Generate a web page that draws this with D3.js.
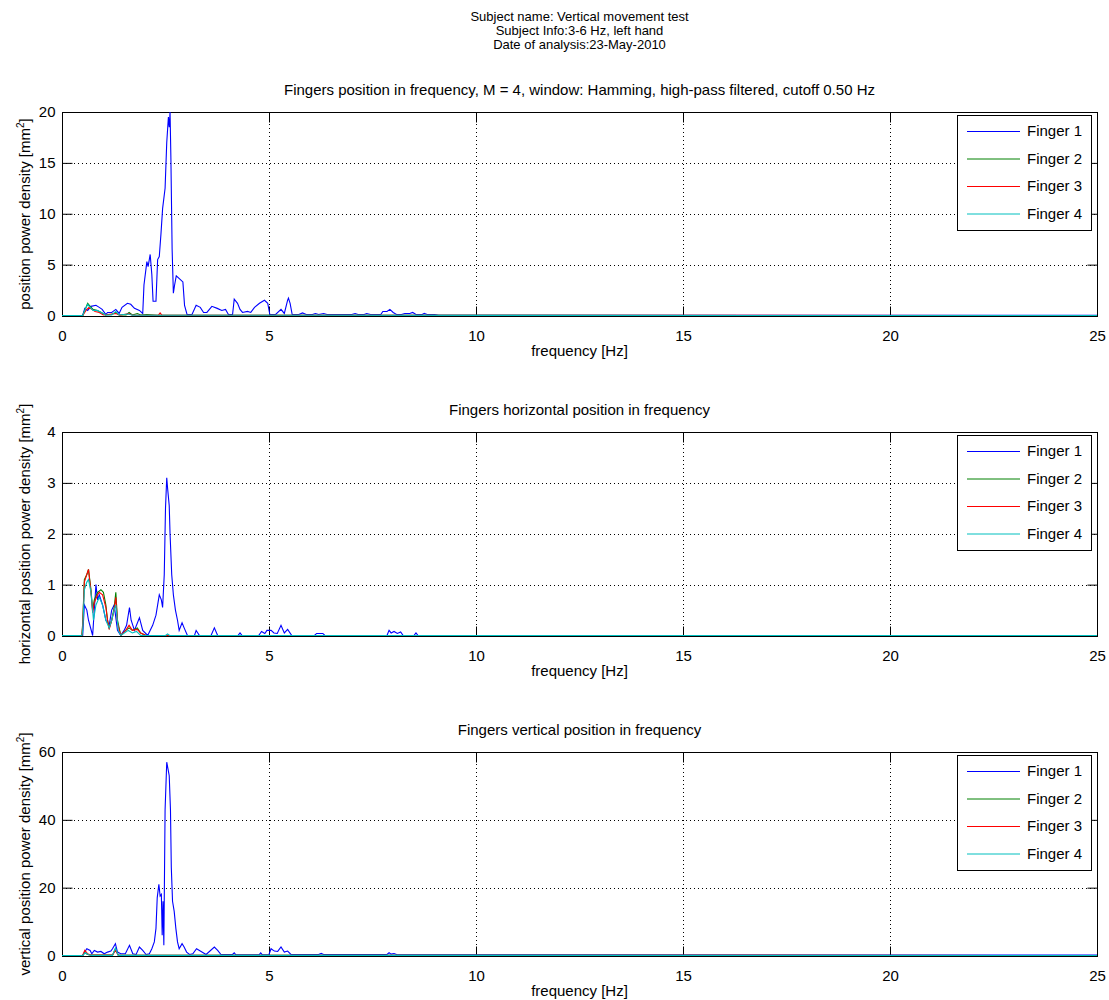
<!DOCTYPE html>
<html>
<head>
<meta charset="utf-8">
<script src="https://cdn.jsdelivr.net/npm/d3@7"></script>
<style>
  body { margin: 0; background: #fff; }
  text { font-family: "Liberation Sans", Arial, sans-serif; font-size: 15px; fill: #000; }
</style>
</head>
<body>
<svg id="chart" width="1109" height="1000"></svg>
<script>
// ---- text ----
var suptitle = ["Subject name: Vertical movement test", "Subject Info:3-6 Hz, left hand", "Date of analysis:23-May-2010"];
var titles = ["Fingers position in frequency, M = 4, window: Hamming, high-pass filtered, cutoff 0.50 Hz",
              "Fingers horizontal position in frequency",
              "Fingers vertical position in frequency"];
var ylabels = ["position power density [mm", "horizontal position power density [mm", "vertical position power density [mm"];
var fingers = ["Finger 1", "Finger 2", "Finger 3", "Finger 4"];
var colors = ["#0000ff", "#008000", "#ff0000", "#00bfbf"];

// ---- ticks ----
var xTicks = [0, 5, 10, 15, 20, 25];
var yTicks1 = [0, 5, 10, 15, 20];
var yTicks2 = [0, 1, 2, 3, 4];
var yTicks3 = [0, 20, 40, 60];

// ---- data: [frequency Hz, power] ----
var pos1 = [[0,0],[0.5,0],[0.55,0.7],[0.62,0.5],[0.7,0.9],[0.82,1.0],[0.9,0.8],[0.97,0.6],[1.06,0.1],[1.1,0.3],[1.2,0.3],[1.3,0.6],[1.38,0.2],[1.45,0.8],[1.58,1.2],[1.66,1.1],[1.75,0.7],[1.87,0.5],[1.95,0.2],[1.98,3.0],[2.05,5.3],[2.08,4.8],[2.13,6.0],[2.17,4.0],[2.2,1.4],[2.27,1.4],[2.31,5.5],[2.35,5.8],[2.39,8.0],[2.43,10.5],[2.49,12.5],[2.53,17.0],[2.57,19.5],[2.59,18.5],[2.61,20],[2.63,15.5],[2.66,6.5],[2.69,2.2],[2.72,3.0],[2.76,3.9],[2.84,3.6],[2.92,3.3],[2.96,1.0],[3.02,0.1],[3.14,0.1],[3.24,1.0],[3.34,0.8],[3.42,0.3],[3.5,0.3],[3.62,0.9],[3.75,0.7],[3.86,0.5],[3.95,0.6],[4.02,0.1],[4.12,0.1],[4.16,1.6],[4.24,1.2],[4.3,0.6],[4.36,0.3],[4.48,0.4],[4.56,0.3],[4.65,0.8],[4.77,1.2],[4.89,1.5],[4.97,1.2],[5.02,0.1],[5.16,0.1],[5.29,0.6],[5.37,0.2],[5.45,1.5],[5.47,1.7],[5.51,1.2],[5.56,0.1],[5.72,0.1],[5.81,0.25],[5.9,0.1],[6.05,0.1],[6.12,0.2],[6.2,0.1],[6.32,0.2],[6.4,0.1],[7.0,0.1],[7.08,0.2],[7.15,0.1],[7.3,0.1],[7.36,0.2],[7.45,0.1],[7.7,0.1],[7.75,0.4],[7.85,0.4],[7.92,0.6],[8.0,0.3],[8.08,0.1],[8.2,0.1],[8.28,0.2],[8.4,0.2],[8.47,0.3],[8.55,0.1],[8.7,0.1],[8.75,0.2],[8.82,0.1],[9,0.1],[9.1,0.03],[25,0.03]];
var pos2 = [[0,0],[0.5,0],[0.55,0.5],[0.62,1.2],[0.68,0.9],[0.75,0.6],[0.85,0.5],[0.95,0.3],[1.05,0.05],[1.2,0.1],[1.3,0.3],[1.38,0.05],[1.55,0.05],[1.62,0.3],[1.7,0.05],[1.82,0.2],[1.9,0.05],[2.05,0.1],[2.3,0.02],[25,0]];
var pos3 = [[0,0],[0.5,0],[0.58,0.5],[0.65,0.8],[0.72,0.6],[0.8,0.4],[0.9,0.3],[1.0,0.05],[1.3,0.2],[1.4,0.03],[1.62,0.2],[1.7,0.03],[2.33,0.03],[2.37,0.25],[2.41,0.03],[25,0]];
var pos4 = [[0,0],[0.5,0],[0.55,0.5],[0.62,1.1],[0.68,0.8],[0.75,0.5],[0.85,0.5],[0.95,0.3],[1.05,0.05],[1.2,0.05],[1.3,0.4],[1.38,0.05],[1.6,0.15],[1.7,0.02],[25,0]];

var hor1 = [[0,0],[0.5,0],[0.54,0.6],[0.6,0.5],[0.64,0.3],[0.74,0.0],[0.78,0.5],[0.82,1.0],[0.86,0.7],[0.9,0.8],[0.98,0.6],[1.06,0.3],[1.14,0.2],[1.2,0.5],[1.26,0.6],[1.34,0.1],[1.42,0.0],[1.5,0.1],[1.56,0.2],[1.63,0.55],[1.67,0.3],[1.75,0.1],[1.87,0.35],[1.95,0.1],[2.07,0.0],[2.19,0.2],[2.27,0.4],[2.35,0.8],[2.4,0.7],[2.43,0.55],[2.47,1.2],[2.5,2.5],[2.53,3.1],[2.55,2.9],[2.59,2.55],[2.61,2.0],[2.65,1.2],[2.69,0.8],[2.74,0.5],[2.79,0.3],[2.83,0.1],[2.9,0.25],[2.95,0.15],[3.03,0.0],[3.2,0.0],[3.24,0.1],[3.32,0.0],[3.6,0.0],[3.68,0.15],[3.76,0.0],[4.25,0.0],[4.3,0.05],[4.35,0.0],[4.75,0.0],[4.82,0.08],[4.9,0.04],[4.95,0.1],[5.05,0.1],[5.12,0.05],[5.2,0.04],[5.29,0.2],[5.37,0.05],[5.45,0.12],[5.55,0.0],[6.1,0.0],[6.15,0.04],[6.3,0.04],[6.35,0],[7.85,0],[7.9,0.1],[7.95,0.05],[8.02,0.08],[8.1,0.04],[8.18,0.07],[8.24,0],[8.5,0],[8.55,0.05],[8.6,0],[25,0]];
var hor2 = [[0,0],[0.48,0],[0.5,0.25],[0.54,1.1],[0.6,1.2],[0.64,1.3],[0.7,0.9],[0.74,0.5],[0.78,0.7],[0.86,0.85],[0.94,0.9],[1.0,0.85],[1.06,0.6],[1.1,0.3],[1.14,0.15],[1.2,0.3],[1.26,0.55],[1.3,0.85],[1.34,0.3],[1.42,0.0],[1.54,0.1],[1.62,0.15],[1.7,0.1],[1.82,0.15],[1.9,0.05],[2.03,0.0],[25,0]];
var hor3 = [[0,0],[0.48,0],[0.5,0.2],[0.54,1.05],[0.6,1.2],[0.64,1.3],[0.7,0.85],[0.74,0.45],[0.78,0.65],[0.86,0.8],[0.9,0.85],[0.98,0.8],[1.06,0.55],[1.1,0.3],[1.14,0.12],[1.2,0.3],[1.26,0.5],[1.3,0.75],[1.34,0.25],[1.42,0.0],[1.54,0.1],[1.62,0.2],[1.7,0.1],[1.82,0.12],[1.9,0.05],[2.03,0.0],[25,0]];
var hor4 = [[0,0],[0.48,0],[0.5,0.1],[0.54,0.9],[0.6,1.05],[0.64,1.1],[0.7,0.85],[0.76,0.3],[0.82,0.6],[0.9,0.75],[0.98,0.6],[1.06,0.3],[1.14,0.15],[1.2,0.3],[1.26,0.5],[1.3,0.6],[1.36,0.1],[1.42,0.0],[1.6,0.1],[1.7,0.05],[1.8,0.08],[1.9,0.0],[2.5,0.0],[2.55,0.03],[2.6,0],[25,0]];

var ver1 = [[0,0],[0.5,0],[0.52,0.5],[0.6,2],[0.68,1.5],[0.72,0.5],[0.78,1.5],[0.86,1.0],[0.94,1.2],[1.02,0.5],[1.1,1.0],[1.18,1.3],[1.22,2],[1.29,3.5],[1.34,1.0],[1.42,0.5],[1.53,0.5],[1.63,3],[1.71,0.5],[1.79,0.3],[1.87,2.5],[1.95,1.5],[2.03,0.3],[2.11,0.5],[2.17,2],[2.23,4],[2.27,8],[2.3,17],[2.34,21],[2.37,17.5],[2.4,18],[2.42,6],[2.44,16],[2.46,3],[2.49,43],[2.53,57],[2.56,55],[2.59,53],[2.62,43],[2.64,26],[2.67,16],[2.71,13],[2.75,8],[2.79,4],[2.83,2],[2.9,3.5],[2.95,2.5],[3.01,1],[3.08,0.3],[3.16,0.5],[3.25,2],[3.36,1.2],[3.48,0.3],[3.68,2.5],[3.76,1.5],[3.84,0.3],[4.12,0.3],[4.16,0.8],[4.2,0.2],[4.76,0.2],[4.8,0.8],[4.84,0.2],[5.0,0.3],[5.05,2],[5.13,1.3],[5.21,1.2],[5.29,2.5],[5.37,1.0],[5.45,1.3],[5.53,0.3],[6.2,0.3],[6.26,0.6],[6.32,0.3],[7.85,0.3],[7.9,0.8],[7.95,0.4],[8.02,0.6],[8.08,0.3],[9,0.2],[25,0.1]];
var ver2 = [[0,0],[0.5,0],[0.55,0.8],[0.62,0.3],[0.7,0.1],[1.22,0.1],[1.29,2.0],[1.36,0.1],[25,0]];
var ver3 = [[0,0],[0.5,0],[0.55,1.5],[0.62,0.5],[0.7,0.1],[1.22,0.1],[1.29,1.5],[1.36,0.1],[25,0]];
var ver4 = [[0,0],[0.5,0],[0.56,0.8],[0.64,0.2],[0.72,0.05],[1.22,0.05],[1.29,2.2],[1.36,0.05],[25,0]];

var panels = [
  { title: titles[0], ylabel: ylabels[0], yTicks: yTicks1, series: [pos1, pos2, pos3, pos4], top: 112 },
  { title: titles[1], ylabel: ylabels[1], yTicks: yTicks2, series: [hor1, hor2, hor3, hor4], top: 432 },
  { title: titles[2], ylabel: ylabels[2], yTicks: yTicks3, series: [ver1, ver2, ver3, ver4], top: 752 }
];

var svg = d3.select("#chart");
var left = 62, right = 1097, h = 204;
var cx = (left + right) / 2;

svg.selectAll(".sup")
  .data(suptitle)
  .enter()
  .append("text")
  .attr("class", "sup")
  .attr("x", cx)
  .attr("y", function(d, i) { return 21 + i * 14; })
  .attr("text-anchor", "middle")
  .style("font-size", "13px")
  .text(function(d) { return d; });

var x = d3.scaleLinear().domain([0, 25]).range([left, right]);

panels.forEach(function(p, pi) {
  var top = p.top, bottom = top + h;
  var yMax = p.yTicks[p.yTicks.length - 1];
  var y = d3.scaleLinear().domain([0, yMax]).range([bottom - 0.5, top]);
  var g = svg.append("g");

  // title
  g.append("text")
    .attr("x", cx).attr("y", top - 17)
    .attr("text-anchor", "middle")
    .text(p.title);

  // dotted grid
  g.selectAll(".gx")
    .data(xTicks.slice(1, -1))
    .enter().append("line")
    .attr("x1", function(d) { return Math.round(x(d)) + 0.5; })
    .attr("x2", function(d) { return Math.round(x(d)) + 0.5; })
    .attr("y1", top).attr("y2", bottom)
    .attr("stroke", "#000").attr("stroke-dasharray", "1,3");
  g.selectAll(".gy")
    .data(p.yTicks.slice(1, -1))
    .enter().append("line")
    .attr("y1", function(d) { return Math.round(y(d)) + 0.5; })
    .attr("y2", function(d) { return Math.round(y(d)) + 0.5; })
    .attr("x1", left).attr("x2", right)
    .attr("stroke", "#000").attr("stroke-dasharray", "1,3");

  // axes with inward ticks
  var ax = g.append("g").attr("transform", "translate(0," + (bottom + 0.5) + ")")
    .call(d3.axisBottom(x).tickValues(xTicks).tickSizeInner(-10).tickSizeOuter(0).tickPadding(14).tickFormat(d3.format("d")));
  var axT = g.append("g").attr("transform", "translate(0," + (top + 0.5) + ")")
    .call(d3.axisTop(x).tickValues(xTicks).tickSizeInner(-10).tickSizeOuter(0).tickFormat(""));
  var ay = g.append("g").attr("transform", "translate(" + (left + 0.5) + ",0)")
    .call(d3.axisLeft(y).tickValues(p.yTicks).tickSizeInner(-10).tickSizeOuter(0).tickPadding(7).tickFormat(d3.format("d")));
  var ayR = g.append("g").attr("transform", "translate(" + (right + 0.5) + ",0)")
    .call(d3.axisRight(y).tickValues(p.yTicks).tickSizeInner(-10).tickSizeOuter(0).tickFormat(""));
  [ax, axT, ay, ayR].forEach(function(a) {
    a.select(".domain").remove();
    a.selectAll("text").style("font-family", '"Liberation Sans", Arial, sans-serif').style("font-size", "15px");
    a.selectAll("line").attr("stroke", "#000");
  });

  // box
  g.append("rect")
    .attr("x", left + 0.5).attr("y", top + 0.5)
    .attr("width", right - left).attr("height", h)
    .attr("fill", "none").attr("stroke", "#000");

  // lines
  var clipId = "clip" + pi;
  svg.append("clipPath").attr("id", clipId)
    .append("rect").attr("x", left).attr("y", top - 1).attr("width", right - left + 1).attr("height", h + 1);
  var line = d3.line().x(function(d) { return x(d[0]); }).y(function(d) { return y(d[1]); });
  g.append("g").attr("clip-path", "url(#" + clipId + ")")
    .selectAll("path")
    .data(p.series)
    .enter().append("path")
    .attr("d", line)
    .attr("fill", "none")
    .attr("stroke", function(d, i) { return colors[i]; })
    .attr("stroke-width", 1.1);

  // x label
  g.append("text")
    .attr("x", cx).attr("y", bottom + 40)
    .attr("text-anchor", "middle")
    .text("frequency [Hz]");

  // y label with superscript
  var yl = g.append("text")
    .attr("transform", "translate(30," + (top + h / 2) + ") rotate(-90)")
    .attr("text-anchor", "middle");
  yl.append("tspan").text(p.ylabel);
  yl.append("tspan").attr("dy", -6).style("font-size", "10px").text("2");
  yl.append("tspan").attr("dy", 6).text("]");

  // legend
  var lg = g.append("g").attr("transform", "translate(957," + (top + 3) + ")");
  lg.append("rect")
    .attr("x", 0.5).attr("y", 0.5).attr("width", 134).attr("height", 115)
    .attr("fill", "#fff").attr("stroke", "#000");
  var items = lg.selectAll(".item").data(fingers).enter().append("g")
    .attr("transform", function(d, i) { return "translate(0," + (16 + i * 27.5) + ")"; });
  items.append("line")
    .attr("x1", 10).attr("x2", 63).attr("y1", 0.5).attr("y2", 0.5)
    .attr("stroke", function(d, i) { return colors[i]; });
  items.append("text")
    .attr("x", 70).attr("y", 5)
    .text(function(d) { return d; });
});
</script>
</body>
</html>
